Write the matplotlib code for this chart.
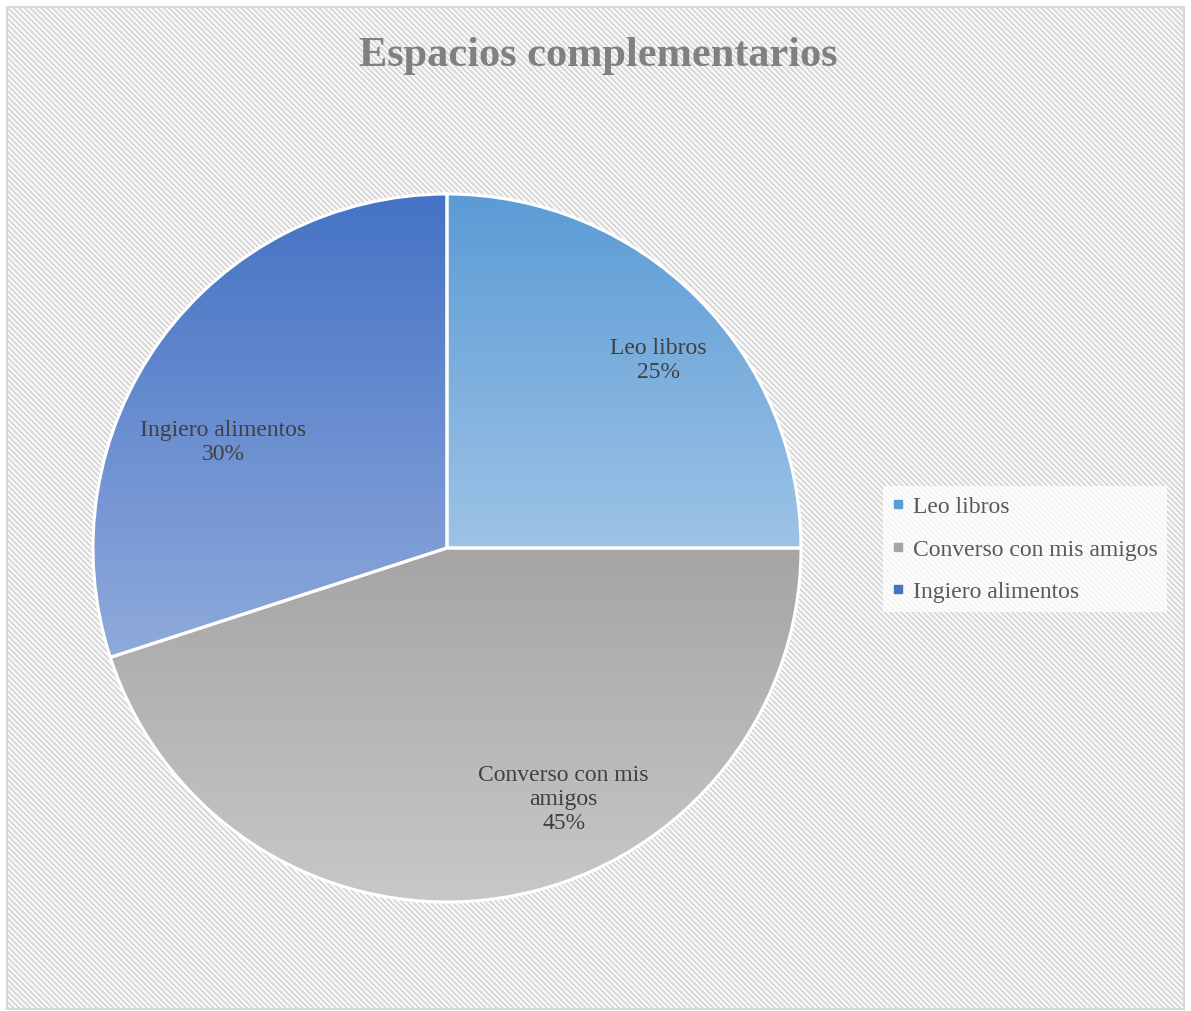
import matplotlib.pyplot as plt
import numpy as np
from matplotlib.patches import Rectangle
from matplotlib.lines import Line2D
from matplotlib.colors import LinearSegmentedColormap

# data
categories = ['Leo libros', 'Converso con mis amigos', 'Ingiero alimentos']
values = [25, 45, 30]
label_texts = ['Leo libros\n25%', 'Converso con mis\namigos\n45%', 'Ingiero alimentos\n30%']
top_colors = ['#5B9BD5', '#A5A5A5', '#4472C4']
bottom_colors = ['#9DC3E6', '#C9C9C9', '#8FAADC']

plt.rcParams['font.family'] = ['Liberation Serif', 'DejaVu Serif']
plt.rcParams['hatch.color'] = '#E6E6E6'
plt.rcParams['hatch.linewidth'] = 1.6

W, H = 1191, 1012
fig = plt.figure(figsize=(W / 100, H / 100), dpi=100)
ax = fig.add_axes([0, 0, 1, 1])

# background: hatched panel with border
bg = Rectangle((7, 2), W - 14, H - 10, facecolor='white', edgecolor='#D9D9D9',
               hatch='\\\\\\\\\\\\', linewidth=1.5, zorder=0)
ax.add_patch(bg)

# pie
center = (447, H - 549)
radius = 354
wedges, _ = ax.pie(values, startangle=90, counterclock=False, center=center,
                   radius=radius, frame=True,
                   wedgeprops=dict(edgecolor='white', linewidth=2.2))

# vertical gradient fill for each wedge
for w, c1, c2 in zip(wedges, top_colors, bottom_colors):
    w.set_facecolor('none')
    w.set_zorder(3)
    verts = w.get_path().vertices
    x0, x1 = verts[:, 0].min(), verts[:, 0].max()
    y0, y1 = verts[:, 1].min(), verts[:, 1].max()
    cmap = LinearSegmentedColormap.from_list('g', [c2, c1])
    grad = np.linspace(0, 1, 256).reshape(-1, 1)
    im = ax.imshow(grad, cmap=cmap, extent=(x0, x1, y0, y1), origin='lower',
                   aspect='auto', zorder=2)
    im.set_clip_path(w)

# data labels (Excel best-fit positions)
label_angles = [41.8, -65.0, 154.6]
label_dist = [0.80, 0.78, 0.70]
for txt, a, d in zip(label_texts, label_angles, label_dist):
    ax.text(center[0] + d * radius * np.cos(np.radians(a)),
            center[1] + d * radius * np.sin(np.radians(a)),
            txt, ha='center', va='center', fontsize=17, color='#404040',
            linespacing=1.2, zorder=5)

ax.set_xlim(0, W)
ax.set_ylim(0, H)
ax.set_aspect('equal')
ax.axis('off')

# title
fig.text(0.502, 1 - 56 / H, 'Espacios complementarios', ha='center', va='center',
         fontsize=30.5, fontweight='bold', color='#808080')

# legend
handles = [Line2D([], [], marker='s', linestyle='none', markersize=6,
                  markerfacecolor=c, markeredgecolor=c) for c in top_colors]
leg = ax.legend(handles, categories, loc='center left',
                bbox_to_anchor=(883 / W, 1 - 550 / H), bbox_transform=fig.transFigure,
                fontsize=17, frameon=True, handlelength=0.5, handletextpad=0.35,
                labelspacing=0.88, borderpad=0.4, borderaxespad=0)
leg.get_frame().set_facecolor('white')
leg.get_frame().set_alpha(0.75)
leg.get_frame().set_edgecolor('none')
leg.get_frame().set_boxstyle('square', pad=0)
for t in leg.get_texts():
    t.set_color('#595959')

fig.savefig('out.png', dpi=100)
